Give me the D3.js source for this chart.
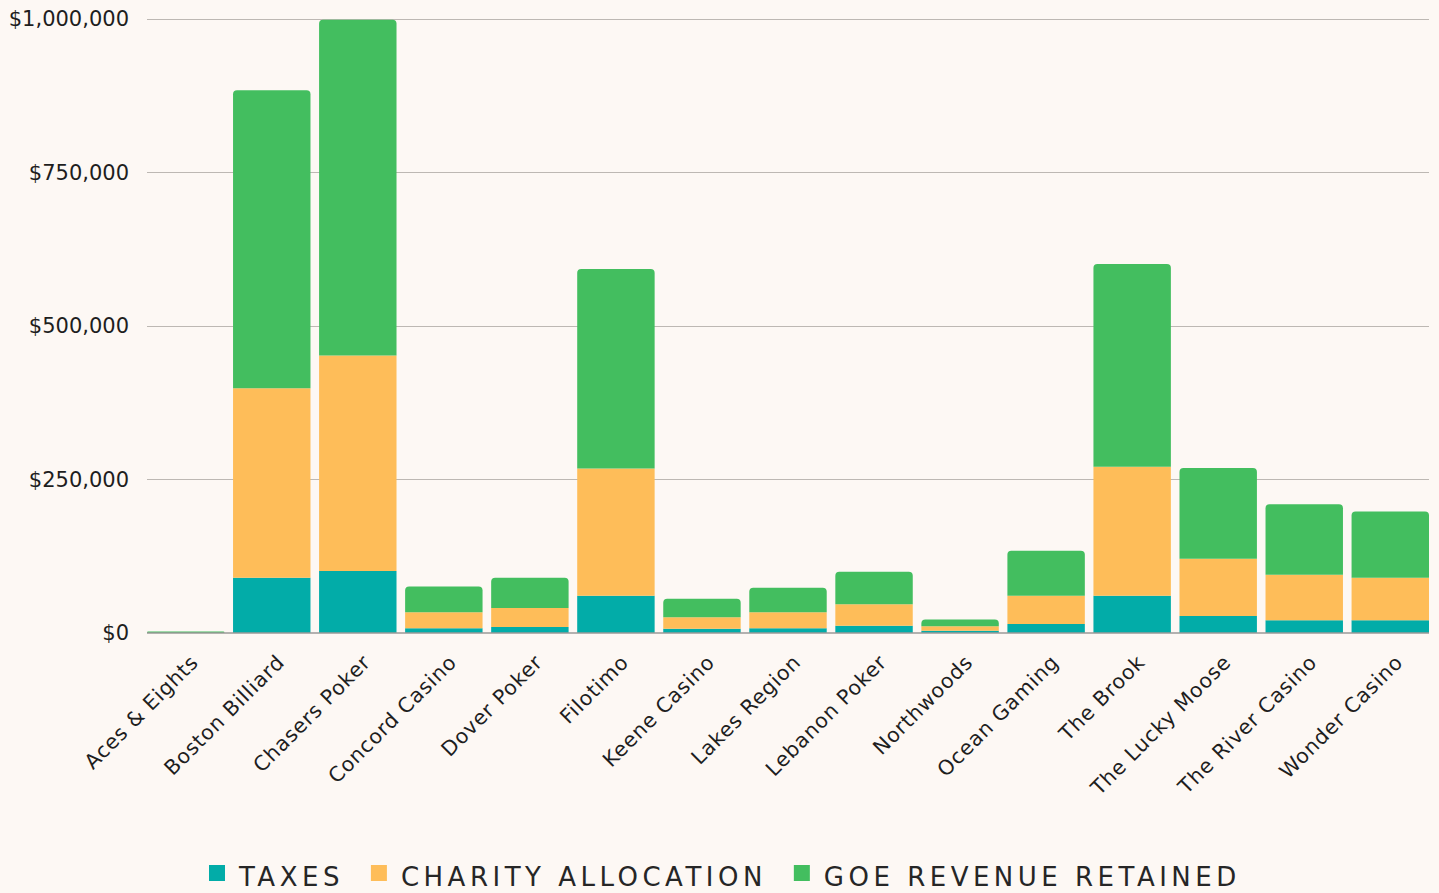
<!DOCTYPE html>
<html><head><meta charset="utf-8">
<script src="https://cdn.jsdelivr.net/npm/d3@7"></script>
<style>
html,body{margin:0;padding:0;background:#fdf8f4;}
svg{display:block;}
</style></head>
<body>
<svg id="chart" width="1439" height="893"></svg>
<script>
const categories = ["Aces & Eights","Boston Billiard","Chasers Poker","Concord Casino","Dover Poker","Filotimo","Keene Casino","Lakes Region","Lebanon Poker","Northwoods","Ocean Gaming","The Brook","The Lucky Moose","The River Casino","Wonder Casino"];
const taxes   = [0, 89000, 100000, 7000, 9000, 60000, 6000, 7000, 11000, 3000, 14000, 60000, 27000, 20000, 20000];
const charity = [0, 309000, 351000, 26000, 31000, 207000, 19000, 26000, 35000, 7000, 46000, 210000, 93000, 74000, 69000];
const goe     = [1800, 485000, 547000, 42000, 49000, 325000, 30000, 40000, 53000, 11000, 73000, 330000, 148000, 115000, 108000];
const seriesNames = ["TAXES","CHARITY ALLOCATION","GOE REVENUE RETAINED"];
const seriesKeys = ["taxes","charity","goe"];
const colors = ["#02aca8","#febd59","#43be5f"];
const yTicks = [0, 250000, 500000, 750000, 1000000];

(function(){
const rows = categories.map((c,i)=>({cat:c, taxes:taxes[i], charity:charity[i], goe:goe[i]}));
const svg = d3.select("#chart");
const W = 1439, H = 893;
const mLeft = 147, mRight = 1429, mTop = 18.5, mBottom = 632.5;
const font = "'DejaVu Sans', sans-serif";

const x = d3.scaleBand().domain(categories).range([mLeft, mRight]).paddingInner(0.1).paddingOuter(0);
const y = d3.scaleLinear().domain([0, 1000000]).range([mBottom, mTop]);

svg.append("rect").attr("width",W).attr("height",H).attr("fill","#fdf8f4");

// grid
const grid = svg.append("g");
grid.selectAll("line").data(yTicks.filter(d=>d>0)).join("line")
  .attr("x1", mLeft).attr("x2", mRight)
  .attr("y1", d=>Math.round(y(d))+0.5).attr("y2", d=>Math.round(y(d))+0.5)
  .attr("stroke","#bdb8b3").attr("stroke-width",1);

// y axis labels
const yAxis = d3.axisLeft(y).tickValues(yTicks).tickSize(0).tickPadding(0)
  .tickFormat(d=>"$"+d3.format(",")(d));
const yg = svg.append("g").attr("transform",`translate(129,0)`).call(yAxis);
yg.select(".domain").remove();
yg.selectAll("text").attr("font-family",font).attr("font-size",21).attr("fill","#1e1e1e")
  .attr("dy","0.35em");

// stacked bars
const stack = d3.stack().keys(seriesKeys);
const layers = stack(rows);
const r = 4;
function topRounded(x0, y0, w, h, rr){
  rr = Math.min(rr, h, w/2);
  return `M${x0},${y0+h} L${x0},${y0+rr} Q${x0},${y0} ${x0+rr},${y0} L${x0+w-rr},${y0} Q${x0+w},${y0} ${x0+w},${y0+rr} L${x0+w},${y0+h} Z`;
}
layers.forEach((layer, li)=>{
  const g = svg.append("g");
  const isTop = li === layers.length-1;
  g.selectAll("path").data(layer).join("path")
    .attr("fill", colors[li])
    .attr("d", d=>{
      const x0 = x(d.data.cat), w = x.bandwidth();
      const y0 = y(d[1]), h = Math.max(0, y(d[0]) - y(d[1]));
      if (h <= 0) return null;
      return isTop ? topRounded(x0, y0, w, h, r) : `M${x0},${y0}h${w}v${h}h${-w}Z`;
    });
});

// baseline
svg.append("line").attr("x1",mLeft).attr("x2",mRight).attr("y1",mBottom+0.5).attr("y2",mBottom+0.5)
  .attr("stroke","#6b6b6b").attr("stroke-width",1.2);

// x labels
const xAxis = d3.axisBottom(x).tickSize(0).tickPadding(0);
const xg = svg.append("g").attr("transform",`translate(0,${mBottom})`).call(xAxis);
xg.select(".domain").remove();
xg.selectAll("text")
  .attr("font-family",font).attr("font-size",20.5).attr("fill","#1e1e1e").attr("letter-spacing","0.8px")
  .attr("text-anchor","end").attr("dy",0).attr("y",0)
  .attr("transform","translate(14,31) rotate(-45)");

// legend
const lg = svg.append("g");
const items = lg.selectAll("g").data(seriesNames).join("g");
items.append("rect").attr("width",16).attr("height",16).attr("y",-16).attr("fill",(d,i)=>colors[i]);
items.append("text").attr("x",30).attr("y",5).text(d=>d)
  .attr("font-family",font).attr("font-size",26).attr("letter-spacing","4.5px").attr("fill","#262626");
let cx = 0;
items.each(function(){
  const t = d3.select(this).select("text").node();
  const w = 30 + t.getComputedTextLength();
  d3.select(this).attr("transform",`translate(${cx},0)`);
  cx += w + 27;
});
const total = cx - 27;
lg.attr("transform",`translate(${Math.round(725 - total/2)},881)`);
})();
</script>
</body></html>
